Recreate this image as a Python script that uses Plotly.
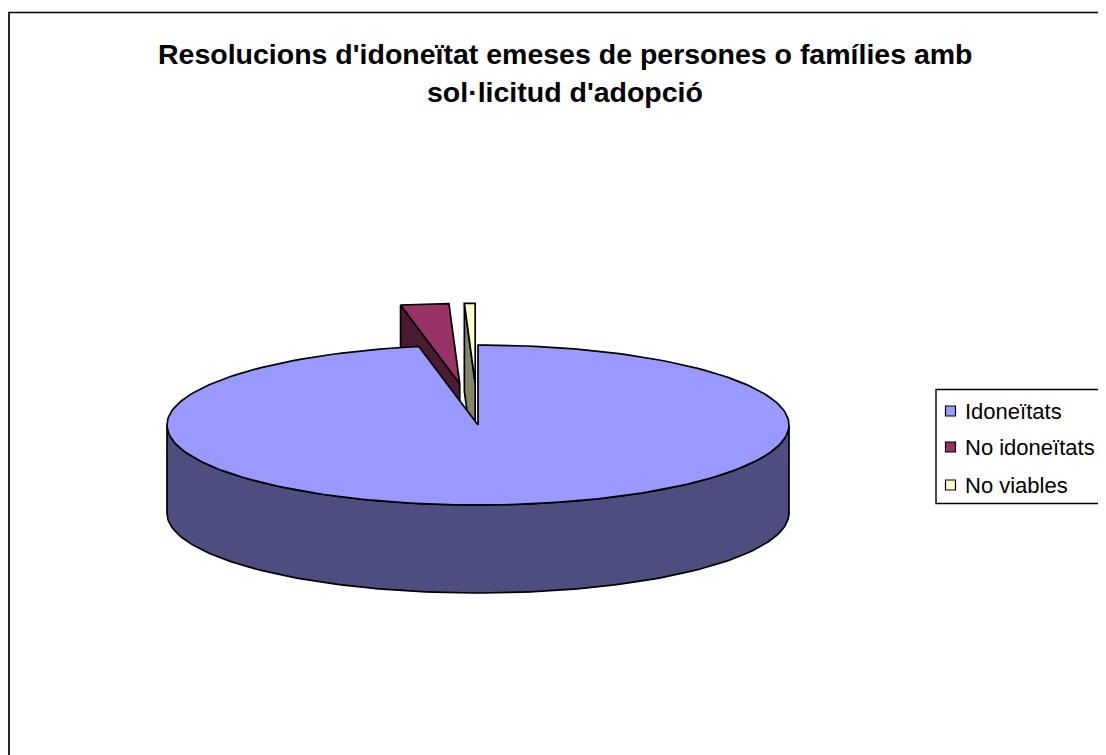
import numpy as np
import plotly.graph_objects as go

# ---------------- data ----------------
categories = ["Idoneïtats", "No idoneïtats", "No viables"]
values = [1050, 27, 6]
title_lines = ["Resolucions d'idoneïtat emeses de persones o famílies amb",
               "sol·licitud d'adopció"]

# ---------------- styles ----------------
top_colors = ["#9999FF", "#993366", "#FFFFCC"]
side_colors = ["#4D4D80", "#4D1A33", "#85856A"]
explode = [0.0, 0.52, 0.52]

# page is offset by the 8px body margin; data units == page pixels
OFF = 8
W, H = 1106, 755
CX, CY, RX, RY, DEPTH = 478, 425, 311, 80, 88
FONT = "Liberation Sans, Arial, sans-serif"

fig = go.Figure()


def rim(theta, ox, oy, z=0.0):
    t = np.radians(theta)
    return ox + RX * np.sin(t), oy - RY * np.cos(t) + z


def arc(a, b, ox, oy, z=0.0):
    n = max(2, int(abs(b - a) / 1.5) + 2)
    th = np.linspace(a, b, n)
    xs, ys = rim(th, ox, oy, z)
    return list(xs), list(ys)


def poly(xs, ys, color):
    fig.add_trace(go.Scatter(
        x=xs + [xs[0]], y=ys + [ys[0]], mode="lines", fill="toself",
        fillcolor=color, line=dict(color="black", width=1.7),
        hoverinfo="skip", showlegend=False))


total = float(sum(values))
cum = np.concatenate([[0.0], np.cumsum(values) / total * 360.0])
slices = []
for i in range(len(values)):
    a, b = cum[i], cum[i + 1]
    mid = np.radians((a + b) / 2)
    ox = CX + explode[i] * RX * np.sin(mid)
    oy = CY - explode[i] * RY * np.cos(mid)
    slices.append((np.cos(mid), i, a, b, ox, oy))

# painter's order: back slices first
slices.sort(key=lambda s: -s[0])

for _, i, a, b, ox, oy in slices:
    # radial side faces
    if np.sin(np.radians(a)) < -1e-9:
        x1, y1 = rim(a, ox, oy)
        poly([ox, x1, x1, ox], [oy, y1, y1 + DEPTH, oy + DEPTH], side_colors[i])
    if np.sin(np.radians(b)) > 1e-9:
        x1, y1 = rim(b, ox, oy)
        poly([ox, x1, x1, ox], [oy, y1, y1 + DEPTH, oy + DEPTH], side_colors[i])
    # curved outer side (front half only)
    lo, hi = max(a, 90.0), min(b, 270.0)
    if hi > lo:
        tx, ty = arc(lo, hi, ox, oy)
        bx, by = arc(hi, lo, ox, oy, DEPTH)
        poly(tx + bx, ty + by, side_colors[i])
    # top face
    tx, ty = arc(a, b, ox, oy)
    poly([ox] + tx, [oy] + ty, top_colors[i])

shapes = []
# outer chart frame
shapes.append(dict(type="rect", xref="x", yref="y", x0=9, y0=12.5, x1=1200, y1=900,
                   line=dict(color="black", width=1.7), fillcolor="rgba(0,0,0,0)", layer="below"))
# legend box
shapes.append(dict(type="rect", xref="x", yref="y", x0=936, y0=389.5, x1=1200, y1=503.5,
                   line=dict(color="black", width=1.4), fillcolor="white", layer="below"))

annotations = []
row_y = [411, 447, 485]
for i, name in enumerate(categories):
    shapes.append(dict(type="rect", xref="x", yref="y", x0=945.5, x1=955.5,
                       y0=row_y[i] - 5, y1=row_y[i] + 5,
                       line=dict(color="black", width=1.2), fillcolor=top_colors[i]))
    annotations.append(dict(x=963, y=row_y[i], xref="x", yref="y", text=name,
                            showarrow=False, xanchor="left", yanchor="middle",
                            font=dict(family=FONT, size=22, color="black")))

title_y = [54, 92]
for j, line in enumerate(title_lines):
    annotations.append(dict(x=565, y=title_y[j], xref="x", yref="y", text="<b>" + line + "</b>",
                            showarrow=False, xanchor="center", yanchor="middle",
                            font=dict(family=FONT, size=28.5, color="black")))

fig.update_layout(
    width=W - OFF, height=H - OFF,
    margin=dict(l=0, r=0, t=0, b=0),
    paper_bgcolor="white", plot_bgcolor="white",
    xaxis=dict(range=[OFF, W], visible=False, fixedrange=True),
    yaxis=dict(range=[H, OFF], visible=False, fixedrange=True),
    shapes=shapes, annotations=annotations,
    showlegend=False,
)

fig.write_html("out.html")
